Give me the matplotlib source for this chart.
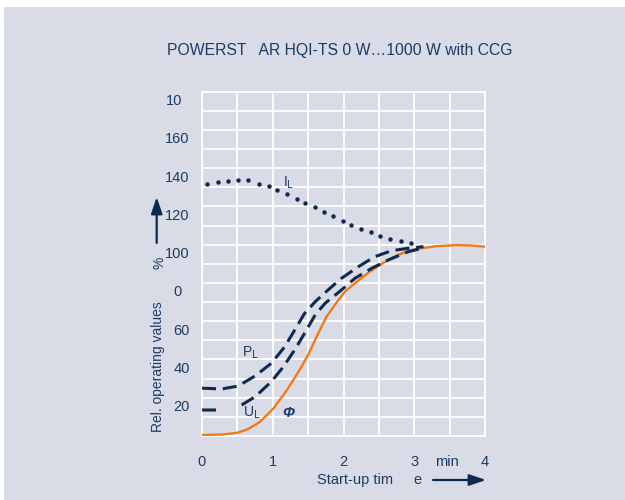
import matplotlib
matplotlib.use("Agg")
import matplotlib.pyplot as plt
import matplotlib.transforms as mtransforms
from matplotlib.patches import Rectangle, FancyArrowPatch
import numpy as np

plt.rcParams["font.family"] = ["Liberation Sans", "DejaVu Sans"]

BG = "#d9dce6"
NAVY = "#0e2a50"
TXT = "#1c3a66"
ORANGE = "#f07a16"

# luminous flux
t_phi = [0, 0.3, 0.5, 0.65, 0.82, 1.01, 1.2, 1.38, 1.5, 1.62, 1.76, 1.91, 2.02, 2.19, 2.37,
         2.52, 2.63, 2.75, 2.87, 3.0, 3.1, 3.3, 3.6, 3.8, 4.0]
v_phi = [0.5, 0.8, 1.7, 3.6, 7.4, 14.4, 24, 34.5, 42.3, 51.9, 62.4, 70.2, 75.4, 80.7, 85.9,
         89.5, 92, 94.3, 96.1, 97.5, 98.1, 99.2, 99.8, 99.6, 99.0]

# lamp power
t_pl = [0, 0.28, 0.51, 0.75, 0.98, 1.17, 1.31, 1.45, 1.6, 1.78, 1.97, 2.21, 2.44, 2.68, 2.91, 3.13]
v_pl = [25, 24.6, 26.1, 31.4, 38, 46.7, 55.4, 64.1, 70.2, 76.3, 82.4, 88.5, 93.7, 96.9, 98.1, 99]

# lamp voltage (break where the label sits)
t_ul = [0, 0.25, np.nan, 0.56, 0.75, 0.98, 1.15, 1.31, 1.45, 1.6, 1.74, 1.97, 2.16, 2.4, 2.63, 2.91, 3.1]
v_ul = [13.6, 13.6, np.nan, 16.2, 20.5, 28.4, 36.2, 45, 53.7, 63.3, 69.4, 76.3, 82.4, 87.7, 92, 96.3, 98]

# lamp current
t_il = [0.066, 0.23, 0.37, 0.51, 0.65, 0.8, 0.94, 1.06, 1.2, 1.34, 1.46, 1.6, 1.72, 1.85,
        1.99, 2.11, 2.25, 2.39, 2.52, 2.66, 2.81, 2.95]
v_il = [131.6, 132.6, 133.5, 133.8, 133.8, 132, 130.5, 128.6, 126.3, 124, 121.9, 119.7, 117,
        114.8, 112.5, 110.3, 108.2, 106.5, 104.5, 103.1, 101.8, 100.7]

xticks = [0, 1, 2, 3, 4]
xticklabels = ["0", "1", "2", "3", "4"]
yticks = [20, 40, 60, 80, 100, 120, 140, 160, 180]
yticklabels = ["20", "40", "60", "0", "100", "120", "140", "160", "10"]

fig = plt.figure(figsize=(6.25, 5), dpi=100, facecolor="white")
fig.patches.append(Rectangle((4 / 625, 0), 1, 1 - 7 / 500, transform=fig.transFigure,
                             facecolor=BG, edgecolor="none", zorder=-10))

ax = fig.add_axes([202 / 625, 1 - 436 / 500, 283 / 625, 344.3 / 500])
ax.set_facecolor(BG)
ax.set_xlim(0, 4)
ax.set_ylim(0, 180)
ax.set_xticks(xticks)
ax.set_xticklabels(xticklabels)
ax.set_yticks(yticks)
ax.set_yticklabels(yticklabels)
ax.set_xticks(np.arange(0, 4.01, 0.5), minor=True)
ax.set_yticks(np.arange(0, 181, 10), minor=True)
ax.grid(which="both", color="white", lw=1.3)
ax.set_axisbelow(True)
for s in ax.spines.values():
    s.set_color("white")
    s.set_linewidth(1.3)

ax.tick_params(which="both", length=0, colors=TXT, labelsize=10.5)
ax.tick_params(axis="x", pad=14)
ax.tick_params(axis="y", pad=9)
for lab in ax.get_yticklabels():
    dx = -7.5 if lab.get_text() in ("10", "0") else 0
    lab.set_transform(lab.get_transform() +
                      mtransforms.ScaledTranslation(dx / 100, -8 / 100, fig.dpi_scale_trans))

ax.plot(t_phi, v_phi, color=ORANGE, lw=1.7, solid_joinstyle="round", zorder=3)
ax.plot(t_pl, v_pl, color=NAVY, lw=2.2, dashes=(4.6, 2.2), zorder=4)
ax.plot(t_ul, v_ul, color=NAVY, lw=2.2, dashes=(4.6, 2.2), zorder=4)
ax.plot(t_il, v_il, "o", color=NAVY, ms=3.2, mec="none", zorder=4)

ax.text(1.22, 132.4, r"I$_{\rm L}$", color=TXT, fontsize=10, ha="center", va="center")
ax.text(0.68, 43.4, r"P$_{\rm L}$", color=TXT, fontsize=10, ha="center", va="center")
ax.text(0.70, 12.2, r"U$_{\rm L}$", color=TXT, fontsize=10, ha="center", va="center")
ax.text(1.22, 11.8, "\u03a6", color=TXT, fontsize=10.5, ha="center", va="center",
        fontweight="bold", style="italic")

fig.text(340 / 625, 1 - 50 / 500, "POWERST   AR HQI-TS 0 W\u20261000 W with CCG",
         color=TXT, fontsize=11.3, ha="center", va="center")

# axis captions and arrows
fig.text(158 / 625, 1 - 367 / 500, "Rel. operating values", rotation=90, color=TXT,
         fontsize=10, ha="center", va="center")
fig.text(159 / 625, 1 - 263 / 500, "%", rotation=90, color=TXT, fontsize=10,
         ha="center", va="center")
arrow_style = "-|>,head_length=1.0,head_width=0.34"
fig.patches.append(FancyArrowPatch((156.7 / 625, 1 - 243 / 500), (156.7 / 625, 1 - 197 / 500),
                                   transform=fig.transFigure, arrowstyle=arrow_style,
                                   color=NAVY, lw=1.6, mutation_scale=10, shrinkA=0, shrinkB=0))
fig.text(355 / 625, 1 - 480 / 500, "Start-up tim", color=TXT, fontsize=10.5,
         ha="center", va="center")
fig.text(417 / 625, 1 - 480 / 500, "e", color=TXT, fontsize=10.5, ha="center", va="center")
fig.text(447 / 625, 1 - 462 / 500, "min", color=TXT, fontsize=10.5, ha="center", va="center")
fig.patches.append(FancyArrowPatch((433 / 625, 1 - 480 / 500), (486 / 625, 1 - 480 / 500),
                                   transform=fig.transFigure, arrowstyle=arrow_style,
                                   color=NAVY, lw=1.6, mutation_scale=10, shrinkA=0, shrinkB=0))

fig.savefig("out.png", dpi=100, facecolor=fig.get_facecolor())
